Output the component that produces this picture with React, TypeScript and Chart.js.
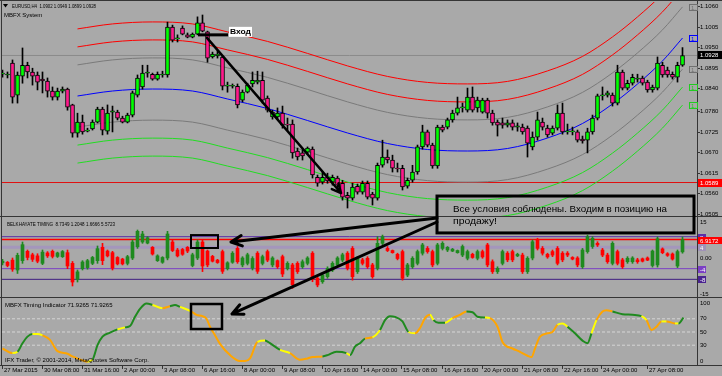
import { useEffect, useRef } from 'react';
import { Chart, registerables } from 'chart.js';

Chart.register(...registerables);

// ---------------- DATA ----------------
const timeLabels = ['27 Mar 2015', '30 Mar 08:00', '31 Mar 16:00', '2 Apr 00:00', '3 Apr 08:00', '6 Apr 16:00', '8 Apr 00:00', '9 Apr 08:00', '10 Apr 16:00', '14 Apr 00:00', '15 Apr 08:00', '16 Apr 16:00', '20 Apr 00:00', '21 Apr 08:00', '22 Apr 16:00', '24 Apr 00:00', '27 Apr 08:00'];
const timeLabelBars = [0, 8, 16, 24, 32, 40, 48, 56, 64, 72, 80, 88, 96, 104, 112, 120, 129];

const openP = [
  1.0878, 1.0876, 1.0908, 1.0822, 1.0873, 1.0902, 1.0884, 1.0876, 1.0865, 1.0860,
  1.0833, 1.0817, 1.0833, 1.0838, 1.0796, 1.0721, 1.0750, 1.0726, 1.0732, 1.0750,
  1.0785, 1.0726, 1.0777, 1.0777, 1.0761, 1.0750, 1.0769, 1.0822, 1.0844, 1.0881,
  1.0878, 1.0865, 1.0876, 1.0876, 1.1004, 1.0972, 1.1001, 1.0983, 1.0977, 1.0985,
  1.1015, 1.0991, 1.0924, 1.0927, 1.0924, 1.0846, 1.0846, 1.0846, 1.0809, 1.0830,
  1.0852, 1.0857, 1.0862, 1.0814, 1.0764, 1.0764, 1.0774, 1.0745, 1.0745, 1.0673,
  1.0668, 1.0670, 1.0678, 1.0603, 1.0590, 1.0603, 1.0590, 1.0601, 1.0587, 1.0555,
  1.0547, 1.0579, 1.0563, 1.0587, 1.0558, 1.0547, 1.0635, 1.0657, 1.0649, 1.0627,
  1.0627, 1.0579, 1.0595, 1.0617, 1.0684, 1.0724, 1.0689, 1.0633, 1.0737, 1.0737,
  1.0756, 1.0774, 1.0788, 1.0782, 1.0817, 1.0788, 1.0777, 1.0809, 1.0774, 1.0750,
  1.0748, 1.0742, 1.0748, 1.0737, 1.0737, 1.0734, 1.0684, 1.0710, 1.0750, 1.0734,
  1.0721, 1.0734, 1.0774, 1.0724, 1.0724, 1.0724, 1.0705, 1.0702, 1.0724, 1.0761,
  1.0820, 1.0822, 1.0822, 1.0801, 1.0884, 1.0841, 1.0854, 1.0865, 1.0868, 1.0857,
  1.0836, 1.0841, 1.0902, 1.0889, 1.0878, 1.0870, 1.0902,
];
const highP = [
  1.0889, 1.0884, 1.0916, 1.0884, 1.0948, 1.0910, 1.0894, 1.0884, 1.0884, 1.0868,
  1.0844, 1.0841, 1.0844, 1.0841, 1.0798, 1.0774, 1.0769, 1.0734, 1.0756, 1.0790,
  1.0790, 1.0796, 1.0793, 1.0782, 1.0766, 1.0774, 1.0833, 1.0876, 1.0902, 1.0902,
  1.0881, 1.0884, 1.0886, 1.1017, 1.1009, 1.0983, 1.1007, 1.0988, 1.0988, 1.1031,
  1.1036, 1.0993, 1.0937, 1.0940, 1.0927, 1.0857, 1.0852, 1.0852, 1.0836, 1.0854,
  1.0884, 1.0886, 1.0884, 1.0820, 1.0782, 1.0788, 1.0793, 1.0761, 1.0756, 1.0681,
  1.0676, 1.0684, 1.0684, 1.0609, 1.0617, 1.0614, 1.0609, 1.0606, 1.0595, 1.0563,
  1.0587, 1.0585, 1.0593, 1.0593, 1.0563, 1.0641, 1.0702, 1.0676, 1.0662, 1.0641,
  1.0635, 1.0601, 1.0635, 1.0689, 1.0742, 1.0729, 1.0694, 1.0742, 1.0742, 1.0761,
  1.0782, 1.0817, 1.0801, 1.0841, 1.0844, 1.0817, 1.0814, 1.0814, 1.0782, 1.0756,
  1.0761, 1.0756, 1.0756, 1.0748, 1.0745, 1.0740, 1.0724, 1.0777, 1.0761, 1.0742,
  1.0740, 1.0796, 1.0801, 1.0745, 1.0737, 1.0729, 1.0713, 1.0734, 1.0769, 1.0825,
  1.0844, 1.0833, 1.0828, 1.0902, 1.0889, 1.0862, 1.0878, 1.0878, 1.0873, 1.0862,
  1.0849, 1.0924, 1.0910, 1.0897, 1.0884, 1.0910, 1.0949,
];
const lowP = [
  1.0870, 1.0868, 1.0801, 1.0801, 1.0854, 1.0868, 1.0849, 1.0836, 1.0828, 1.0817,
  1.0809, 1.0809, 1.0828, 1.0782, 1.0710, 1.0710, 1.0718, 1.0724, 1.0729, 1.0748,
  1.0716, 1.0718, 1.0724, 1.0756, 1.0748, 1.0748, 1.0764, 1.0817, 1.0838, 1.0870,
  1.0862, 1.0862, 1.0870, 1.0870, 1.0964, 1.0964, 1.0983, 1.0975, 1.0975, 1.0983,
  1.0991, 1.0910, 1.0921, 1.0921, 1.0836, 1.0830, 1.0841, 1.0788, 1.0804, 1.0828,
  1.0844, 1.0852, 1.0801, 1.0777, 1.0758, 1.0758, 1.0734, 1.0729, 1.0654, 1.0649,
  1.0649, 1.0665, 1.0601, 1.0579, 1.0585, 1.0587, 1.0582, 1.0574, 1.0542, 1.0521,
  1.0542, 1.0558, 1.0558, 1.0545, 1.0529, 1.0542, 1.0630, 1.0641, 1.0617, 1.0617,
  1.0569, 1.0574, 1.0590, 1.0611, 1.0678, 1.0684, 1.0627, 1.0627, 1.0724, 1.0732,
  1.0750, 1.0769, 1.0777, 1.0777, 1.0777, 1.0777, 1.0774, 1.0761, 1.0742, 1.0713,
  1.0734, 1.0737, 1.0729, 1.0726, 1.0718, 1.0657, 1.0676, 1.0702, 1.0729, 1.0710,
  1.0716, 1.0729, 1.0718, 1.0718, 1.0716, 1.0697, 1.0694, 1.0668, 1.0718, 1.0756,
  1.0809, 1.0817, 1.0793, 1.0796, 1.0836, 1.0836, 1.0849, 1.0857, 1.0849, 1.0830,
  1.0830, 1.0836, 1.0870, 1.0870, 1.0865, 1.0857, 1.0899,
];
const closeP = [
  1.0881, 1.0876, 1.0817, 1.0876, 1.0902, 1.0884, 1.0873, 1.0857, 1.0860, 1.0833,
  1.0817, 1.0833, 1.0838, 1.0790, 1.0721, 1.0750, 1.0724, 1.0729, 1.0750, 1.0785,
  1.0729, 1.0774, 1.0780, 1.0761, 1.0750, 1.0769, 1.0828, 1.0868, 1.0881, 1.0884,
  1.0865, 1.0878, 1.0878, 1.1004, 1.0969, 1.0975, 1.0985, 1.0977, 1.0985, 1.1015,
  1.0993, 1.0921, 1.0932, 1.0932, 1.0846, 1.0849, 1.0846, 1.0796, 1.0830, 1.0849,
  1.0862, 1.0862, 1.0809, 1.0782, 1.0777, 1.0774, 1.0742, 1.0742, 1.0668, 1.0657,
  1.0660, 1.0681, 1.0609, 1.0587, 1.0603, 1.0593, 1.0603, 1.0582, 1.0550, 1.0547,
  1.0577, 1.0563, 1.0587, 1.0550, 1.0547, 1.0635, 1.0657, 1.0649, 1.0627, 1.0625,
  1.0577, 1.0595, 1.0617, 1.0684, 1.0724, 1.0689, 1.0633, 1.0737, 1.0729, 1.0756,
  1.0774, 1.0788, 1.0790, 1.0817, 1.0782, 1.0809, 1.0809, 1.0774, 1.0748, 1.0742,
  1.0742, 1.0748, 1.0737, 1.0740, 1.0724, 1.0694, 1.0710, 1.0756, 1.0737, 1.0716,
  1.0734, 1.0774, 1.0724, 1.0726, 1.0724, 1.0702, 1.0700, 1.0724, 1.0761, 1.0820,
  1.0822, 1.0828, 1.0801, 1.0884, 1.0841, 1.0854, 1.0870, 1.0868, 1.0854, 1.0836,
  1.0844, 1.0908, 1.0876, 1.0876, 1.0870, 1.0902, 1.0928,
];

const priceTicks = [1.1060, 1.1005, 1.0950, 1.0895, 1.0840, 1.0780, 1.0725, 1.0670, 1.0615, 1.0560, 1.0505];
const supportLevel = 1.0589;

// MBFX System channel (read at sample bars)
const bandBars = [15, 22, 30, 38, 45, 53, 61, 69, 77, 85, 93, 101, 109, 116, 122, 127, 132, 136];
const bandRed1 = [1.09989, 1.10122, 1.10175, 1.10122, 1.09909, 1.09655, 1.09335, 1.09002, 1.08721, 1.08561, 1.08521, 1.08588, 1.08868, 1.09255, 1.09775, 1.10309, 1.10923, 1.11536];
const bandRed2 = [1.09509, 1.09642, 1.09695, 1.09642, 1.09429, 1.09175, 1.08855, 1.08522, 1.08241, 1.08081, 1.08041, 1.08108, 1.08388, 1.08775, 1.09295, 1.09829, 1.10443, 1.11056];
const bandGrayUp = [1.09029, 1.09162, 1.09215, 1.09162, 1.08949, 1.08695, 1.08375, 1.08042, 1.07761, 1.07601, 1.07561, 1.07628, 1.07908, 1.08295, 1.08815, 1.09349, 1.09963, 1.10576];
const bandMid = [1.08199, 1.08332, 1.08385, 1.08332, 1.08119, 1.07865, 1.07545, 1.07212, 1.06931, 1.06771, 1.06731, 1.06798, 1.07078, 1.07465, 1.07985, 1.08519, 1.09133, 1.09746];
const bandGrayDn = [1.07369, 1.07502, 1.07555, 1.07502, 1.07289, 1.07035, 1.06715, 1.06382, 1.06101, 1.05941, 1.05901, 1.05968, 1.06248, 1.06635, 1.07155, 1.07689, 1.08303, 1.08916];
const bandGreen1 = [1.06889, 1.07022, 1.07075, 1.07022, 1.06809, 1.06555, 1.06235, 1.05902, 1.05621, 1.05461, 1.05421, 1.05488, 1.05768, 1.06155, 1.06675, 1.07209, 1.07823, 1.08436];
const bandGreen2 = [1.06409, 1.06542, 1.06595, 1.06542, 1.06329, 1.06075, 1.05755, 1.05422, 1.05141, 1.04981, 1.04941, 1.05008, 1.05288, 1.05675, 1.06195, 1.06729, 1.07343, 1.07956];

// Belkhayate timing bars
const belHigh = [
  -0.5, -1.3, 0.0, 1.8, 6.0, 3.0, 1.8, 1.6, 3.0, 2.4, 3.0, 2.2, 2.8, 3.0, -1.3, -4.5, -1.0, -0.5, 0.6, 4.5,
  5.5, 3.0, 2.5, 0.5, -0.1, 1.0, 6.8, 10.5, 10.0, 8.0, 4.3, 1.2, 0.5, 10.0, 6.8, 3.6, 3.6, 4.3, 1.8, 6.8,
  6.8, 3.0, 1.0, -0.5, 3.0, -1.4, 2.4, 4.3, 0.5, 1.8, 0.5, 2.4, 1.1, 3.0, 0.5, -0.7, 1.1, -1.4, -2.0, -1.4,
  -0.7, 0.5, 2.4, -7.0, -5.8, -3.3, -1.4, 0.5, 1.8, 2.4, 4.3, 0.5, -0.1, 0.5, -2.0, 8.0, 8.6, 4.3, 3.0, 1.8,
  3.0, -2.0, 0.5, 3.0, 5.5, 4.3, 3.0, 5.5, 6.1, 4.3, 3.6, 3.0, 4.9, 3.0, 1.8, 3.0, 3.0, 5.5, -0.7, -3.3,
  3.0, 2.4, 3.0, 1.8, 1.8, 0.5, 6.8, 7.4, 4.3, 1.8, 3.0, 4.3, 2.4, 2.4, 0.5, 0.5, 3.6, 8.6, 8.0, 6.1,
  3.6, 1.8, 6.1, 3.0, -0.1, 0.5, 0.5, -0.1, 0.0, 0.4, 3.0, 7.9, 3.8, 2.0, 1.9, 3.0, 7.9,
];
const belLow = [
  -2.6, -3.3, -5.0, -5.8, -2.0, -0.7, -1.3, -1.8, -2.5, 0.2, 0.0, 0.2, 0.2, -4.0, -10.5, -9.0, -4.5, -4.2, -2.5, -2.0,
  -2.5, 0.4, -4.5, -2.6, -2.6, -2.6, -0.6, 3.6, 5.5, 5.3, 1.1, -1.3, -2.0, -0.7, 2.4, 0.4, 1.0, 2.0, -3.3, -0.6,
  -5.1, -3.3, -1.5, -2.0, -5.8, -4.5, -2.0, -2.0, -3.3, -2.6, -4.5, -5.8, -2.6, -1.4, -3.3, -3.9, -7.0, -4.5, -11.4, -5.8,
  -3.9, -2.6, -8.9, -10.8, -9.5, -7.6, -5.1, -3.3, -1.4, -4.5, -8.3, -5.8, -2.6, -3.9, -7.6, -4.5, 5.0, 2.4, 1.8, -0.7,
  -8.3, -7.0, -3.9, -2.6, 1.1, 1.8, -3.3, -2.6, 3.0, 2.4, 2.4, 1.8, 0.5, -0.7, -0.1, -0.7, -0.1, -3.3, -5.8, -5.8,
  -2.6, -1.4, -1.4, 0.5, -5.8, -5.8, -0.7, 3.0, 1.1, -0.1, 0.5, -2.6, -1.4, 0.5, -0.7, -3.3, -3.9, 1.8, 3.6, 4.3,
  0.5, -2.0, -2.6, -2.6, -3.9, -2.0, -2.0, -2.0, -1.5, -1.0, -3.4, -3.4, 1.6, 0.6, -0.8, -3.6, 1.8,
];
const belOpen = [
  -1.8, -1.6, -0.8, -4.5, -1.0, 2.5, 1.2, 0.8, -2.0, 1.9, 2.5, 0.6, 0.5, 2.0, -2.0, -8.0, -4.0, -3.6, -2.0, -1.0,
  4.0, 2.6, 2.0, 0.2, -0.4, -2.0, 0.0, 4.2, 6.0, 5.6, 4.0, -1.0, -1.6, 0.0, 6.0, 3.0, 3.2, 4.0, -2.8, 0.0,
  6.0, 2.6, 0.6, -0.8, 2.4, -4.0, -1.6, 3.6, -2.6, -2.0, -3.8, 1.8, -2.0, 2.4, -2.6, -1.0, 0.5, -4.0, -2.6, -2.0,
  -3.3, -2.0, 1.8, -7.6, -8.9, -7.0, -4.5, -2.6, -0.8, 1.8, 3.6, -5.1, -0.7, -0.1, -2.6, -3.9, 5.5, 3.6, 2.8, 1.4,
  2.4, -6.4, -3.3, -2.0, 1.8, 3.6, 2.4, -2.0, 3.6, 3.0, 2.6, 2.0, 1.1, -0.1, 1.4, -0.1, 2.4, 4.9, -1.4, -5.1,
  -2.0, 1.8, 2.4, 0.8, 1.1, -5.1, 0.0, 6.8, 3.6, 1.4, 2.4, 3.6, 1.8, 1.8, 0.2, 0.0, -3.3, 2.4, 4.3, 5.5,
  3.0, 1.1, -2.0, 2.4, -0.7, -1.4, -1.4, -0.7, -0.3, 0.0, -2.8, -2.6, 3.4, 1.6, 1.5, -3.0, 2.3,
];
const belClose = [
  -1.2, -2.8, -4.2, 1.0, 5.0, 0.2, -0.5, -1.2, 2.2, 0.8, 0.6, 1.9, 2.4, -3.0, -9.0, -5.2, -1.5, -1.0, 0.2, 3.5,
  -1.0, 0.8, -3.8, -2.2, -2.2, 0.5, 6.0, 10.0, 9.0, 7.6, 1.5, 0.8, 0.2, 9.0, 2.8, 0.8, 1.4, 2.6, 1.2, 6.0,
  -3.0, -2.6, -1.2, -1.7, -5.0, -1.8, 1.8, -1.4, 0.0, 1.2, -0.2, -5.0, 0.5, -0.8, 0.0, -3.3, -6.0, -2.0, -10.0, -5.1,
  -1.4, 0.0, -8.0, -10.1, -6.4, -3.9, -2.0, 0.0, 1.2, -3.9, -7.0, -0.2, -2.0, -3.3, -7.0, 5.5, 8.0, 2.8, 2.0, -0.2,
  -7.6, -2.6, -0.1, 2.4, 4.9, 2.4, -2.6, 4.9, 5.5, 4.0, 3.3, 2.8, 4.3, 2.4, 0.2, 2.4, 0.4, -2.6, -5.1, -3.9,
  2.4, -0.7, -0.7, 1.4, -5.1, -0.1, 6.1, 3.6, 1.8, 0.4, 1.1, -2.0, -0.7, 1.1, -0.4, -2.6, 3.0, 8.0, 7.4, 4.9,
  1.1, -1.4, 5.5, -2.0, -3.3, -0.1, 0.0, -1.4, -1.2, -0.8, 2.6, 7.2, 2.0, 1.0, -0.4, 2.4, 6.9,
];
const belLevels = [8, 4, -4, -8];
const belSignal = 6.9172;
const belHeaderValues = ['8.7349', '1.2048', '1.6666', '5.5723'];

// MBFX Timing line (read at turning points)
const mbfxBars = [0, 2, 3, 4, 5, 6, 7, 8, 9.5, 11, 13, 14, 16, 17, 18, 19, 20, 21.5, 23, 24.5, 25.5, 26.5, 27.5, 28.8, 30, 32, 33.5, 34.5, 35.5, 37.8, 38.8, 40, 40.8, 41.5, 42.5, 43.5, 45.5, 47.5, 48.5, 49.5, 51, 52.5, 53.5, 55.5, 57.5, 59.5, 61, 62, 64, 65, 66.8, 68.8, 69.5, 70.5, 71.5, 72.5, 74, 75.5, 76.5, 77.5, 78.5, 80, 81.2, 82.5, 83.5, 84.5, 85.5, 86.2, 87.2, 88.5, 90, 91.5, 92.8, 94, 95, 96.5, 97.5, 99, 100, 102, 103.5, 105, 105.8, 106.5, 107.5, 109, 110, 111, 112, 113, 114.5, 116, 117, 117.8, 118.8, 120, 120.8, 122, 124, 126, 127.8, 128.8, 129.8, 130.8, 131.8, 132.8, 134.5, 135.2, 136.2];
const mbfxValues = [25, 18, 20, 33, 43, 47, 47, 45, 38, 21, 17, 13, 7, 5, 8, 30, 43, 49, 54, 57, 59, 73, 85, 93, 91, 86, 89, 91, 88, 81, 76, 74, 70, 58, 45, 32, 15, 6, 6, 10, 35, 37, 33, 23, 18, 8, 10, 12, 13, 15, 20, 18, 15, 28, 33, 40, 42, 53, 68, 74, 73, 66, 50, 48, 56, 71, 76, 68, 64, 64, 71, 76, 81, 80, 73, 72, 71, 58, 35, 25, 20, 14, 12, 25, 43, 48, 50, 61, 63, 58, 48, 37, 33, 48, 68, 81, 83, 81, 77, 76, 74, 68, 53, 58, 66, 66, 63, 63, 71.93];
const mbfxStates = 'oygggyyooooooyggggygggggyoggyoooooooooooyggyoooogggygggoygggggyoooyggyoogggyoooooooooooyyggggyooogggyoooyoyggyygg';
const mbfxLevels = [70, 50, 30];
const mbfxTicks = [100, 70, 50, 30, 0];
const mbfxHeader = 'MBFX Timing Indicator 71.9265 71.9265';

// annotations (bar index + value on a panel axis)
const entryMark = { i1: 39.1, i2: 45.1, price: 1.0983, text: 'Вход' };
const trendArrow = { i1: 40.9, p1: 1.0975, i2: 67.7, p2: 1.0561 };
const noteBox = { i1: 86.9, i2: 138.3, pTop: 1.0553, bBottom: 9.4, textI: 90.1, line1P: 1.0518, line2B: 13.9 };
const noteLines = ['Все условия соблюдены. Входим в позицию на', 'продажу!'];
const belBox = { i1: 37.7, i2: 43.1, v1: 8.6, v2: 3.75 };
const mbfxBox = { i1: 37.7, i2: 43.9, v1: 92.4, v2: 54.5 };
const arrowBel = { i1: 86.9, b1: 15.0, i2: 45.7, b2: 6.0 };
const arrowMbfx = { i1: 86.9, b1: 13.5, i2: 45.9, m2: 77.3 };

// ---------------- STYLE / LAYOUT ----------------
const BG = '#a9a9a9';
const FRAME = '#353535';
const FONT = '"Liberation Sans", Arial, sans-serif';
const AREA = { left: 2, top: 2, right: 697, bottom: 365 };
const MAIN_BOTTOM = 216;
const BEL_TOP = 218, BEL_BOTTOM = 297;
const MB_TOP = 299;
const X_MIN = -0.1, X_MAX = 138.9;

const mainClip = { left: 0, top: 0, right: 0, bottom: -(AREA.bottom - MAIN_BOTTOM) };
const belClip = { left: 0, top: -(BEL_TOP - AREA.top), right: 0, bottom: -(AREA.bottom - BEL_BOTTOM) };
const mbClip = { left: 0, top: -(MB_TOP - AREA.top), right: 0, bottom: 0 };

const MB_COL: Record<string, string> = { g: '#1f8a1f', y: '#ffff00', o: '#ffa500' };

function txt(ctx: CanvasRenderingContext2D, s: string, x: number, y: number, size: number, color: string, o: any = {}) {
  ctx.save();
  ctx.font = `${o.bold ? 'bold ' : ''}${size}px ${FONT}`;
  ctx.fillStyle = color;
  ctx.textAlign = o.align || 'left';
  ctx.textBaseline = o.baseline || 'middle';
  if (o.width) {
    const m = ctx.measureText(s).width;
    ctx.translate(x, y);
    ctx.scale(o.width / m, 1);
    ctx.fillText(s, 0, 0);
  } else {
    ctx.fillText(s, x, y);
  }
  ctx.restore();
}

function hline(ctx: CanvasRenderingContext2D, x1: number, x2: number, y: number, color: string, w = 1) {
  ctx.save();
  ctx.strokeStyle = color; ctx.lineWidth = w;
  ctx.beginPath(); ctx.moveTo(x1, y); ctx.lineTo(x2, y); ctx.stroke();
  ctx.restore();
}
function vline(ctx: CanvasRenderingContext2D, x: number, y1: number, y2: number, color: string, w = 1) {
  ctx.save();
  ctx.strokeStyle = color; ctx.lineWidth = w;
  ctx.beginPath(); ctx.moveTo(x, y1); ctx.lineTo(x, y2); ctx.stroke();
  ctx.restore();
}

function arrow(ctx: CanvasRenderingContext2D, x1: number, y1: number, x2: number, y2: number, lw: number, head: number) {
  ctx.save();
  ctx.strokeStyle = '#000'; ctx.lineWidth = lw; ctx.lineCap = 'round'; ctx.lineJoin = 'round';
  const a = Math.atan2(y2 - y1, x2 - x1);
  ctx.beginPath();
  ctx.moveTo(x1, y1); ctx.lineTo(x2, y2);
  ctx.moveTo(x2 - head * Math.cos(a - 0.45), y2 - head * Math.sin(a - 0.45));
  ctx.lineTo(x2, y2);
  ctx.lineTo(x2 - head * Math.cos(a + 0.45), y2 - head * Math.sin(a + 0.45));
  ctx.stroke();
  ctx.restore();
}

function box(ctx: CanvasRenderingContext2D, x: number, y: number, w: number, h: number, fill: string, stroke: string | null, label: string, color: string, tw?: number) {
  ctx.save();
  ctx.fillStyle = fill; ctx.fillRect(x, y, w, h);
  if (stroke) { ctx.strokeStyle = stroke; ctx.lineWidth = 1; ctx.strokeRect(x + 0.5, y + 0.5, w - 1, h - 1); }
  ctx.restore();
  txt(ctx, label, x + 2, y + h / 2 + 0.5, 6, color, tw ? { width: tw } : {});
}

const mt4Plugin = {
  id: 'mt4',
  beforeDraw(chart: any) {
    const { ctx } = chart;
    ctx.save(); ctx.fillStyle = BG; ctx.fillRect(0, 0, chart.width, chart.height); ctx.restore();
  },
  afterDatasetsDraw(chart: any) {
    const { ctx, scales } = chart;
    const X = (i: number) => scales.x.getPixelForValue(i);
    const Y = (v: number) => scales.y.getPixelForValue(v);
    const B = (v: number) => scales.yB.getPixelForValue(v);
    const M = (v: number) => scales.yM.getPixelForValue(v);

    // frame
    hline(ctx, 0, chart.width, 0.5, FRAME);
    vline(ctx, AREA.left - 0.5, 0, AREA.bottom + 1, FRAME);
    vline(ctx, AREA.right + 0.5, 0, AREA.bottom + 1, FRAME);
    hline(ctx, 0, chart.width, MAIN_BOTTOM + 0.5, FRAME);
    hline(ctx, 0, chart.width, BEL_BOTTOM + 0.5, FRAME);
    hline(ctx, 0, chart.width, AREA.bottom + 0.5, FRAME);

    // entry mark
    const ey = Y(entryMark.price);
    ctx.save(); ctx.fillStyle = '#000'; ctx.fillRect(X(entryMark.i1), ey - 1.5, X(entryMark.i2) - X(entryMark.i1), 3); ctx.restore();
    ctx.save(); ctx.fillStyle = '#fff'; ctx.fillRect(X(entryMark.i2) + 1, ey - 8, 23, 10); ctx.restore();
    txt(ctx, entryMark.text, X(entryMark.i2) + 2, ey - 3, 8, '#000', { bold: true, width: 21 });

    // trend arrow
    arrow(ctx, X(trendArrow.i1), Y(trendArrow.p1), X(trendArrow.i2), Y(trendArrow.p2), 2.5, 10);

    // small rectangles
    ctx.save(); ctx.strokeStyle = '#000'; ctx.lineWidth = 2;
    ctx.strokeRect(X(belBox.i1), B(belBox.v1), X(belBox.i2) - X(belBox.i1), B(belBox.v2) - B(belBox.v1));
    ctx.lineWidth = 2.5;
    ctx.strokeRect(X(mbfxBox.i1), M(mbfxBox.v1), X(mbfxBox.i2) - X(mbfxBox.i1), M(mbfxBox.v2) - M(mbfxBox.v1));
    ctx.restore();

    // note box
    const bx1 = X(noteBox.i1), bx2 = X(noteBox.i2), by1 = Y(noteBox.pTop), by2 = B(noteBox.bBottom);
    ctx.save(); ctx.strokeStyle = '#000'; ctx.lineWidth = 3; ctx.strokeRect(bx1, by1, bx2 - bx1, by2 - by1); ctx.restore();
    txt(ctx, noteLines[0], X(noteBox.textI), Y(noteBox.line1P), 9.5, '#000', { width: 214 });
    txt(ctx, noteLines[1], X(noteBox.textI), B(noteBox.line2B), 9.5, '#000', { width: 44 });

    // arrows from box
    arrow(ctx, X(arrowBel.i1), B(arrowBel.b1), X(arrowBel.i2), B(arrowBel.b2), 3, 12);
    arrow(ctx, X(arrowMbfx.i1), B(arrowMbfx.b1), X(arrowMbfx.i2), M(arrowMbfx.m2), 3, 12);
  },
  afterDraw(chart: any) {
    const { ctx, scales } = chart;
    const X = (i: number) => scales.x.getPixelForValue(i);
    const Y = (v: number) => scales.y.getPixelForValue(v);
    const B = (v: number) => scales.yB.getPixelForValue(v);
    const M = (v: number) => scales.yM.getPixelForValue(v);
    const ax = AREA.right + 3;
    const n = closeP.length - 1;

    // headers
    ctx.save(); ctx.fillStyle = '#000'; ctx.beginPath(); ctx.moveTo(3, 4); ctx.lineTo(8, 4); ctx.lineTo(5.5, 7.5); ctx.closePath(); ctx.fill(); ctx.restore();
    txt(ctx, `EURUSD,H4  ${openP[n].toFixed(4)} ${highP[n].toFixed(4)} ${lowP[n].toFixed(4)} ${closeP[n].toFixed(4)}`, 12, 6.5, 6, '#000', { width: 84 });
    txt(ctx, 'MBFX System', 4, 15, 6, '#000');
    txt(ctx, `BELKHAYATE TIMING  ${belHeaderValues.join(' ')}`, 7, BEL_TOP + 6, 6, '#000', { width: 108 });
    txt(ctx, mbfxHeader, 5, MB_TOP + 6, 6, '#000');
    txt(ctx, 'IFX Trader, © 2001-2014, MetaQuotes Software Corp.', 5, AREA.bottom - 5, 6, '#000');

    // main price axis
    priceTicks.forEach((p) => {
      const y = Math.round(Y(p)) + 0.5;
      hline(ctx, AREA.right, AREA.right + 3, y, FRAME);
      txt(ctx, p.toFixed(4), ax, y, 6, '#000');
    });
    // band end labels
    [[bandGrayUp, '#707070'], [bandMid, '#0000ff'], [bandGrayDn, '#707070'], [bandGreen1, '#22cc22'], [bandGreen2, '#22cc22']].forEach(([arr, col]: any) => {
      const y = Y(arr[arr.length - 1]);
      if (y < AREA.top || y > MAIN_BOTTOM) return;
      box(ctx, AREA.right - 8, Math.round(y) - 3, 9, 7, BG, col, '1.', col);
    });
    // current price and support labels
    const cy = Math.round(Y(closeP[n]));
    box(ctx, AREA.right + 1, cy - 4, 24, 8, '#000', null, closeP[n].toFixed(4), '#fff');
    const sy = Math.round(Y(supportLevel));
    box(ctx, AREA.right + 1, sy - 4, 24, 8, '#ff0000', null, supportLevel.toFixed(4), '#fff');

    // belkhayate axis
    txt(ctx, '15', ax, B(15) + 1, 6, '#000', { baseline: 'top' });
    txt(ctx, '0.00', ax, B(0), 6, '#000');
    txt(ctx, '-15', ax, B(-15) - 1, 6, '#000', { baseline: 'bottom' });
    const belBoxCols = ['#5b2fa8', '#a092b8', '#7b3fc4', '#4a2390'];
    belLevels.forEach((v, k) => {
      const y = Math.round(B(v));
      box(ctx, AREA.right + 1, y - 3, 8, 7, belBoxCols[k], null, String(v), '#fff');
    });
    const ry = Math.round(B(belSignal));
    box(ctx, AREA.right + 1, ry - 3, 24, 7, '#ff0000', null, belSignal.toFixed(4), '#fff');

    // mbfx axis
    mbfxTicks.forEach((v) => {
      if (v === 100) txt(ctx, String(v), ax, M(v) + 1, 6, '#000', { baseline: 'top' });
      else if (v === 0) txt(ctx, String(v), ax, M(v) - 1, 6, '#000', { baseline: 'bottom' });
      else txt(ctx, String(v), ax, M(v), 6, '#000');
    });

    // time axis
    timeLabels.forEach((s, k) => {
      const x = Math.round(X(timeLabelBars[k])) - 0.5;
      vline(ctx, x, AREA.bottom + 1, AREA.bottom + 4, FRAME);
      txt(ctx, s, x + 1.5, AREA.bottom + 5.5, 6, '#000');
    });
  },
};

function levelData(v: number) {
  return [{ x: X_MIN, y: v }, { x: X_MAX, y: v }];
}

export default function App() {
  const ref = useRef<HTMLCanvasElement>(null);
  useEffect(() => {
    const canvas = ref.current;
    if (!canvas) return;
    const n = closeP.length - 1;
    const bodyColors = closeP.map((c, i) => (c >= openP[i] ? '#00ff00' : '#ff1a8c'));
    const belColors = belClose.map((c, i) => (c >= belOpen[i] ? '#1e8a1e' : '#ff0000'));
    const bandDefs: any[] = [
      [bandRed1, '#ff0000'], [bandRed2, '#ff0000'], [bandGrayUp, '#7a7a7a'], [bandMid, '#0000ff'],
      [bandGrayDn, '#7a7a7a'], [bandGreen1, '#22dd22'], [bandGreen2, '#22dd22'],
    ];
    const belLevelCols = ['#5b2fa8', '#a496bc', '#7b3fc4', '#3f1d80'];
    const datasets: any[] = [
      // candles
      { type: 'bar', yAxisID: 'y', data: openP.map((_, i) => ({ x: i, y: [lowP[i], highP[i]] })), backgroundColor: '#000', barThickness: 1, grouped: false, order: 1, clip: mainClip },
      { type: 'bar', yAxisID: 'y', data: openP.map((o, i) => ({ x: i, y: [o, closeP[i]] })), backgroundColor: bodyColors, borderColor: '#000', borderWidth: 1, borderSkipped: false, barThickness: 4, minBarLength: 1, grouped: false, order: 0, clip: mainClip },
      // channel
      ...bandDefs.map(([arr, col]) => ({ type: 'line', yAxisID: 'y', data: bandBars.map((b, k) => ({ x: b, y: arr[k] })), borderColor: col, borderWidth: 1, pointRadius: 0, cubicInterpolationMode: 'monotone', fill: false, order: 2, clip: mainClip })),
      // levels main
      { type: 'line', yAxisID: 'y', data: levelData(supportLevel), borderColor: '#e01010', borderWidth: 1, pointRadius: 0, order: 3, clip: mainClip },
      { type: 'line', yAxisID: 'y', data: levelData(closeP[n]), borderColor: '#8a8a8a', borderWidth: 1, pointRadius: 0, order: 3, clip: mainClip },
      // belkhayate levels
      ...belLevels.map((v, k) => ({ type: 'line', yAxisID: 'yB', data: levelData(v), borderColor: belLevelCols[k], borderWidth: k === 1 ? 3 : 1, pointRadius: 0, order: 4, clip: belClip })),
      { type: 'line', yAxisID: 'yB', data: levelData(belSignal), borderColor: '#ff0000', borderWidth: 1.5, pointRadius: 0, order: 3, clip: belClip },
      // belkhayate bars
      { type: 'bar', yAxisID: 'yB', data: belOpen.map((_, i) => ({ x: i, y: [belLow[i], belHigh[i]] })), backgroundColor: belColors, barThickness: 1, grouped: false, order: 1, clip: belClip },
      { type: 'bar', yAxisID: 'yB', data: belOpen.map((o, i) => ({ x: i, y: [o, belClose[i]] })), backgroundColor: belColors, barThickness: 3, minBarLength: 1, grouped: false, order: 0, clip: belClip },
      // mbfx levels
      ...mbfxLevels.map((v) => ({ type: 'line', yAxisID: 'yM', data: levelData(v), borderColor: '#d6d6d6', borderWidth: 1, borderDash: [3, 2], pointRadius: 0, order: 3, clip: mbClip })),
      // mbfx line
      {
        type: 'line', yAxisID: 'yM', data: mbfxBars.map((b, k) => ({ x: b, y: mbfxValues[k] })),
        borderColor: '#ffa500', borderWidth: 2, pointRadius: 0, cubicInterpolationMode: 'monotone', fill: false, order: 0, clip: mbClip,
        segment: { borderColor: (c: any) => MB_COL[mbfxStates[c.p0DataIndex]] || '#ffa500' },
      },
    ];

    const chart = new Chart(canvas, {
      type: 'bar',
      data: { datasets },
      options: {
        responsive: false,
        devicePixelRatio: 1,
        animation: false,
        events: [],
        layout: { padding: { left: AREA.left, top: AREA.top, right: 722 - AREA.right, bottom: 376 - AREA.bottom } },
        plugins: { legend: { display: false }, tooltip: { enabled: false } },
        scales: {
          x: { type: 'linear', min: X_MIN, max: X_MAX, offset: false, display: false },
          y: { type: 'linear', min: 1.010215, max: 1.107067, display: false },
          yB: { type: 'linear', min: -40.125, max: 96.0, display: false },
          yM: { type: 'linear', min: 0, max: 550, display: false },
        },
      } as any,
      plugins: [mt4Plugin],
    } as any);
    return () => chart.destroy();
  }, []);

  return (
    <div style={{ position: 'fixed', left: 0, top: 0, width: 722, height: 376, background: BG }}>
      <canvas ref={ref} width={722} height={376} style={{ display: 'block', width: 722, height: 376 }} />
    </div>
  );
}
